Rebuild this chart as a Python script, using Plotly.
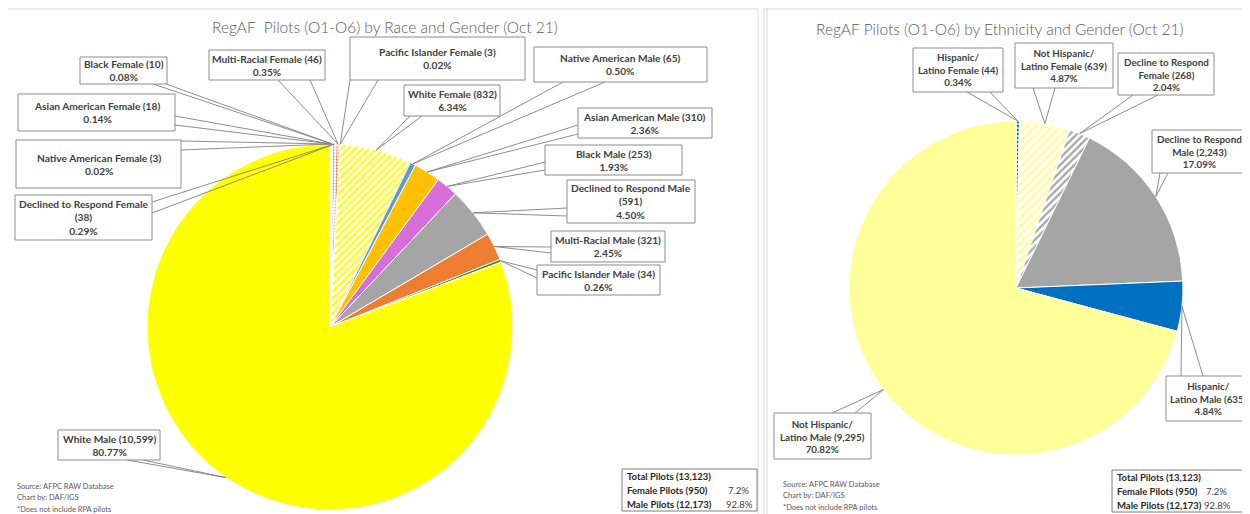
import math
import plotly.graph_objects as go

# The page body has an 8px margin; the figure is sized so it ends at the window edge.
OFF = 8
W, H = 1242, 506

# ---------------- data ----------------
race_labels = [
    "Native American Female", "Asian American Female", "Black Female",
    "Declined to Respond Female", "Multi-Racial Female", "Pacific Islander Female",
    "White Female", "Native American Male", "Asian American Male", "Black Male",
    "Declined to Respond Male", "Multi-Racial Male", "Pacific Islander Male", "White Male",
]
race_counts = [3, 18, 10, 38, 46, 3, 832, 65, 310, 253, 591, 321, 34, 10599]
race_pcts = ["0.02%", "0.14%", "0.08%", "0.29%", "0.35%", "0.02%", "6.34%",
             "0.50%", "2.36%", "1.93%", "4.50%", "2.45%", "0.26%", "80.77%"]
race_count_text = ["3", "18", "10", "38", "46", "3", "832", "65", "310", "253",
                   "591", "321", "34", "10,599"]

eth_labels = ["Hispanic/ Latino Female", "Not Hispanic/ Latino Female",
              "Decline to Respond Female", "Decline to Respond Male",
              "Hispanic/ Latino Male", "Not Hispanic/ Latino Male"]
eth_counts = [44, 639, 268, 2243, 635, 9295]
eth_pcts = ["0.34%", "4.87%", "2.04%", "17.09%", "4.84%", "70.82%"]
eth_count_text = ["44", "639", "268", "2,243", "635", "9,295"]

summary_labels = ["Total Pilots (13,123)", "Female Pilots (950)", "Male Pilots (12,173)"]
summary_pcts = ["", "7.2%", "92.8%"]

titles = ["RegAF  Pilots (O1-O6) by Race and Gender (Oct 21)",
          "RegAF Pilots (O1-O6) by Ethnicity and Gender (Oct 21)"]
footnotes = ["Source: AFPC RAW Database", "Chart by: DAF/IGS", "*Does not include RPA pilots"]

# ---------------- styles ----------------
race_colors = ["#5B9BD5", "#FFC000", "#D96ED9", "#A5A5A5", "#ED7D31", "#70AD47", "#FFFF00",
               "#5B9BD5", "#FFC000", "#D96ED9", "#A5A5A5", "#ED7D31", "#548235", "#FFFF00"]
race_shapes = [".", ".", ".", ".", ".", ".", "/", "", "", "", "", "", "", ""]
eth_colors = ["#0070C0", "#FFFF99", "#A5A5A5", "#A5A5A5", "#0070C0", "#FFFF99"]
eth_shapes = [".", "/", "/", "", "", ""]

FONT = "Lato"
TXT = "#404040"
BOX = "#8c8c8c"
LEAD = "#808080"


def px(x, y):
    """window pixel -> paper coords"""
    return (x - OFF) / W, 1 - (y - OFF) / H


# pie geometry (window pixels)
L_CX, L_CY, L_R = 330, 327, 183
R_CX, R_CY, R_R = 1016, 288, 167


def domain(cx, cy, r):
    a, b = px(cx - r, cy + r)
    c, d = px(cx + r, cy - r)
    return dict(x=[a, c], y=[b, d])


def slice_point(counts, i, cx, cy, r):
    tot = sum(counts)
    mid = (sum(counts[:i]) + counts[i] / 2) / tot * 2 * math.pi
    return cx + r * math.sin(mid), cy - r * math.cos(mid)


fig = go.Figure()
fig.add_trace(go.Pie(
    labels=race_labels, values=race_counts, sort=False, direction="clockwise", rotation=0,
    textinfo="none", domain=domain(L_CX, L_CY, L_R), showlegend=False,
    marker=dict(colors=race_colors, line=dict(color="white", width=1),
                pattern=dict(shape=race_shapes, fillmode="replace", bgcolor="white",
                             size=[3] * 6 + [5] + [8] * 7, solidity=0.45)),
))
fig.add_trace(go.Pie(
    labels=eth_labels, values=eth_counts, sort=False, direction="clockwise", rotation=0,
    textinfo="none", domain=domain(R_CX, R_CY, R_R), showlegend=False,
    marker=dict(colors=eth_colors, line=dict(color="white", width=1),
                pattern=dict(shape=eth_shapes, fillmode="replace", bgcolor="white",
                             size=[4, 6, 5, 8, 8, 8], solidity=0.45)),
))

shapes = []
annotations = []

# panels
for (x0, x1) in [(7, 758), (764, 1270)]:
    a, b = px(x0, 9)
    c, d = px(x1, 540)
    shapes.append(dict(type="rect", xref="paper", yref="paper", x0=a, y0=d, x1=c, y1=b,
                       line=dict(color="#d9d9d9", width=1), fillcolor="rgba(0,0,0,0)", layer="below"))
a, b = px(767, 9)
c, d = px(767, 540)
shapes.append(dict(type="line", xref="paper", yref="paper", x0=a, y0=b, x1=c, y1=d,
                   line=dict(color="#d9d9d9", width=1)))

# titles
for t, (x, y) in zip(titles, [(385, 27), (999, 29)]):
    ax_, ay_ = px(x, y)
    annotations.append(dict(text=t, x=ax_, y=ay_, xref="paper", yref="paper", showarrow=False,
                            xanchor="center", yanchor="middle",
                            font=dict(family=FONT, size=15.5, color="#595959", weight=300)))

# label boxes: (box x0, y0, x1, y1), wedge base pt1, wedge base pt2
race_boxes = [
    ((16, 140, 181, 188), (181, 141), (181, 150)),     # Native American Female
    ((18, 94, 175, 131), (175, 116), (175, 125)),      # Asian American Female
    ((80, 57, 167, 84), (153, 84), (166, 84)),         # Black Female
    ((15, 195, 152, 240), (152, 202), (152, 213)),     # Declined Female
    ((209, 50, 325, 80), (278, 80), (310, 80)),        # Multi-Racial Female
    ((350, 37, 525, 80), (350, 80), (378, 80)),        # Pacific Islander Female
    ((404, 85, 500, 116), (410, 116), (422, 116)),     # White Female
    ((534, 47, 707, 82), (563, 82), (605, 82)),        # Native American Male
    ((578, 108, 712, 138), (578, 125), (578, 134)),    # Asian American Male
    ((545, 145, 682, 175), (545, 162), (545, 170)),    # Black Male
    ((567, 180, 695, 223), (567, 208), (567, 216)),    # Declined Male
    ((551, 231, 665, 262), (551, 247), (551, 253)),    # Multi-Racial Male
    ((537, 265, 660, 295), (537, 270), (537, 278)),    # Pacific Islander Male
    ((58, 430, 160, 460), (127, 460), (143, 460)),     # White Male
]
race_text = [
    None, None, None,
    "Declined to Respond Female<br>({c})<br>{p}",
    None, None, None, None, None, None,
    "Declined to Respond Male<br>({c})<br>{p}",
    None, None, None,
]
eth_boxes = [
    ((913, 48, 1003, 92), (967, 92), (990, 92)),
    ((1015, 43, 1113, 88), (1033, 88), (1055, 88)),
    ((1118, 53, 1214, 95), (1133, 95), (1158, 95)),
    ((1152, 130, 1246, 173), (1160, 173), (1168, 173)),
    ((1166, 376, 1262, 421), (1181, 376), (1203, 376)),
    ((774, 413, 871, 459), (832, 413), (855, 413)),
]
eth_text = [
    "Hispanic/<br>Latino Female ({c})<br>{p}",
    "Not Hispanic/<br>Latino Female ({c})<br>{p}",
    "Decline to Respond<br>Female ({c})<br>{p}",
    "Decline to Respond<br>Male ({c})<br>{p}",
    "Hispanic/<br>Latino Male ({c})<br>{p}",
    "Not Hispanic/<br>Latino Male ({c})<br>{p}",
]


def add_label(box, b1, b2, target, text, size, cx_override=None):
    x0, y0, x1, y1 = box
    p1 = px(*b1)
    p2 = px(*b2)
    pt = px(*target)
    shapes.append(dict(type="path", xref="paper", yref="paper",
                       path=f"M {p1[0]},{p1[1]} L {pt[0]},{pt[1]} L {p2[0]},{p2[1]}",
                       line=dict(color=LEAD, width=0.9), layer="above"))
    a, b = px(x0, y0)
    c, d = px(x1, y1)
    shapes.append(dict(type="rect", xref="paper", yref="paper", x0=a, y0=d, x1=c, y1=b,
                       line=dict(color=BOX, width=1), fillcolor="white", layer="above"))
    mx = cx_override if cx_override is not None else (x0 + x1) / 2
    cx, cy = px(mx, (y0 + y1) / 2)
    annotations.append(dict(text=text, x=cx, y=cy, xref="paper", yref="paper", showarrow=False,
                            xanchor="center", yanchor="middle", align="center",
                            font=dict(family=FONT, size=size, color=TXT, weight="bold")))


for i in range(len(race_labels)):
    tgt = slice_point(race_counts, i, L_CX, L_CY, L_R)
    tmpl = race_text[i] or (race_labels[i] + " ({c})<br>{p}")
    add_label(race_boxes[i][0], race_boxes[i][1], race_boxes[i][2], tgt,
              tmpl.format(c=race_count_text[i], p=race_pcts[i]), 10.2)

for i in range(len(eth_labels)):
    tgt = slice_point(eth_counts, i, R_CX, R_CY, R_R)
    add_label(eth_boxes[i][0], eth_boxes[i][1], eth_boxes[i][2], tgt,
              eth_text[i].format(c=eth_count_text[i], p=eth_pcts[i]), 9.8,
              cx_override=1208 if i == 4 else None)

# footnotes
for (fx, fy0) in [(15, 486), (781, 484)]:
    for k, t in enumerate(footnotes):
        a, b = px(fx, fy0 + 11.5 * k)
        annotations.append(dict(text=t, x=a, y=b, xref="paper", yref="paper", showarrow=False,
                                xanchor="left", yanchor="middle",
                                font=dict(family=FONT, size=7.5, color="#595959")))

# summary boxes
for (bx0, by0, bx1, by1, pcx) in [(622, 469, 757, 511, 724), (1112, 470, 1262, 512, 1202)]:
    a, b = px(bx0, by0)
    c, d = px(bx1, by1)
    shapes.append(dict(type="rect", xref="paper", yref="paper", x0=a, y0=d, x1=c, y1=b,
                       line=dict(color="#7f7f7f", width=1), fillcolor="white", layer="above"))
    for k, (lab, pc) in enumerate(zip(summary_labels, summary_pcts)):
        yy = by0 + 7 + 14 * k
        a, b = px(bx0 + 3, yy)
        annotations.append(dict(text="<b>" + lab + "</b>", x=a, y=b, xref="paper", yref="paper",
                                showarrow=False, xanchor="left", yanchor="middle",
                                font=dict(family=FONT, size=9.5, color="#262626")))
        if pc:
            a, b = px(pcx + (0 if k == 2 else 2), yy)
            annotations.append(dict(text=pc, x=a, y=b, xref="paper", yref="paper",
                                    showarrow=False, xanchor="left", yanchor="middle",
                                    font=dict(family=FONT, size=9.5, color="#404040")))

fig.update_layout(
    width=W, height=H, margin=dict(l=0, r=0, t=0, b=0),
    paper_bgcolor="white", plot_bgcolor="white",
    shapes=shapes, annotations=annotations,
)

fig.write_html("out.html")
